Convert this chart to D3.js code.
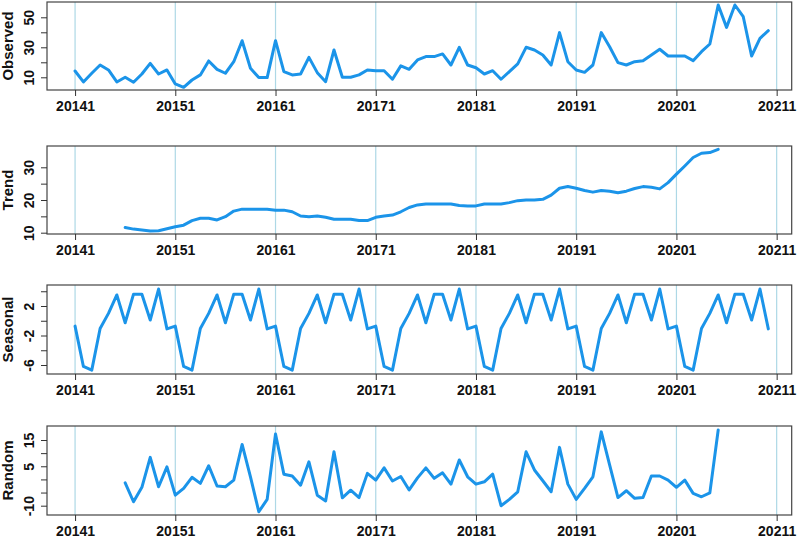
<!DOCTYPE html>
<html><head><meta charset="utf-8">
<script src="https://cdn.jsdelivr.net/npm/d3@7"></script>
<style>
body{margin:0;background:#fff;}
svg text{font-family:"Liberation Sans",Arial,sans-serif;font-weight:bold;fill:#111;}
</style></head>
<body><svg id="c" width="797" height="538"></svg>
<script>
const startYear = 2014;
const frequency = 12;
const observed = [14.2, 6.9, 12.7, 18.2, 14.9, 6.9, 10, 6.7, 12.2, 19.3, 12.2, 14.9,
 5.6, 3.3, 8.2, 11.6, 20.9, 15.3, 12.7, 20.4, 34.4, 16, 9.8, 9.8,
 34.4, 13.8, 11.6, 12.2, 23.3, 13.1, 7.1, 28.2, 10, 10, 11.6, 14.9,
 14.4, 14.4, 8.7, 17.6, 15.3, 21.6, 23.8, 23.8, 25.6, 18.2, 30, 18.2,
 16.4, 12.2, 14.4, 8.7, 13.8, 18.9, 30, 28.2, 24.9, 18.2, 39.8, 20.4,
 14.9, 13.3, 18.2, 39.8, 30.4, 19.8, 18.2, 20.4, 21.1, 24.9, 28.7, 24.2,
 24.2, 24.2, 21.1, 27.1, 32.2, 58.2, 43.3, 58.2, 50.4, 24.2, 36, 41.1];
const trendStart = 6;
const trend = [11.6, 11.1, 10.8, 10.5, 10.6, 11.2, 11.8, 12.3, 13.7, 14.4, 14.4, 13.9,
 14.9, 16.6, 17.2, 17.2, 17.2, 17.2, 16.9, 16.9, 16.4, 15.1, 14.9, 15.1,
 14.7, 14.1, 14.1, 14.1, 13.7, 13.7, 14.7, 15.1, 15.4, 16.4, 17.7, 18.5,
 18.8, 18.8, 18.8, 18.8, 18.3, 18.2, 18.2, 18.8, 18.8, 18.8, 19.2, 19.8,
 20, 20, 20.2, 21.5, 23.6, 24.1, 23.6, 22.9, 22.4, 22.9, 22.7, 22.2,
 22.7, 23.5, 24.1, 23.9, 23.4, 25.3, 27.9, 30.4, 33, 34.3, 34.5, 35.5];
const seasonal = [
 -0.73, -6.2, -6.7, -1.05, 1.0, 3.5, -0.27, 3.6, 3.6, 0.1, 4.3, -1.1,
 -0.73, -6.2, -6.7, -1.05, 1.0, 3.5, -0.27, 3.6, 3.6, 0.1, 4.3, -1.1,
 -0.73, -6.2, -6.7, -1.05, 1.0, 3.5, -0.27, 3.6, 3.6, 0.1, 4.3, -1.1,
 -0.73, -6.2, -6.7, -1.05, 1.0, 3.5, -0.27, 3.6, 3.6, 0.1, 4.3, -1.1,
 -0.73, -6.2, -6.7, -1.05, 1.0, 3.5, -0.27, 3.6, 3.6, 0.1, 4.3, -1.1,
 -0.73, -6.2, -6.7, -1.05, 1.0, 3.5, -0.27, 3.6, 3.6, 0.1, 4.3, -1.1,
 -0.73, -6.2, -6.7, -1.05, 1.0, 3.5, -0.27, 3.6, 3.6, 0.1, 4.3, -1.1];
const randomStart = 6;
const random = [-1.3, -8.5, -3, 8.4, -2.8, 4.8,
 -6, -3.4, 0.8, -1.5, 5.2, -2.5,
 -2.8, -0.25, 13.3, 1, -12.3, -7.6,
 17.3, 2, 1.3, -2.2, 6.7, -6,
 -8.2, 10.5, -7, -4.1, -6.9, 2.3,
 -0.25, 4.4, -0.6, 1.1, -4, 0.6,
 4.4, 0.4, 2.5, -1.8, 7.4, 1,
 -1.8, -0.9, 2, -10, -7.6, -4.7,
 10.5, 3.6, -0.5, -4.7, 12.2, -1.8,
 -7.6, -3.4, 1, 18.1, 5.5, -6.9,
 -4.3, -7.2, -6.9, 1.3, 1.3, -0.25,
 -3, -0.25, -5.3, -6.6, -5.1, 18.8];
const xTickYears = [2014, 2015, 2016, 2017, 2018, 2019, 2020, 2021];
const xTickLabels = ["20141", "20151", "20161", "20171", "20181", "20191", "20201", "20211"];
const panelTitles = ["Observed", "Trend", "Seasonal", "Random"];
const yTicks = [[10,20,30,40,50],[10,15,20,25,30],[4,2,0,-2,-4,-6],[15,10,5,0,-5,-10]];
const yTickLabels = [[10,30,50],[10,20,30],[2,-2,-6],[15,5,-10]];

const lineColor = "#1b94e9";
const gridColor = "#add8e6";
const svg = d3.select("#c");
const left = 47, right = 791.7;
const x = d3.scaleLinear().domain([2013.72, 2021.15]).range([left, right]);
const tOf = i => startYear + i / frequency;

const panels = [
  {top: 2, bottom: 90, anchor: [[10, 77.3], [50, 17.3]],
   data: observed.map((v, i) => [tOf(i), v])},
  {top: 146, bottom: 234, anchor: [[10, 232.7], [30, 167.3]],
   data: trend.map((v, i) => [tOf(i + trendStart), v])},
  {top: 285, bottom: 374, anchor: [[2, 306], [-6, 365]],
   data: seasonal.map((v, i) => [tOf(i), v])},
  {top: 426, bottom: 515, anchor: [[15, 440], [-10, 505.7]],
   data: random.map((v, i) => [tOf(i + randomStart), v])}
];

panels.forEach((p, k) => {
  const y = d3.scaleLinear().domain([p.anchor[0][0], p.anchor[1][0]]).range([p.anchor[0][1], p.anchor[1][1]]);
  const g = svg.append("g");
  g.selectAll("line.grid").data(xTickYears).join("line")
    .attr("x1", d => x(d)).attr("x2", d => x(d))
    .attr("y1", p.top).attr("y2", p.bottom)
    .attr("stroke", gridColor).attr("stroke-width", 1.2);
  const clipId = "clip" + k;
  svg.append("clipPath").attr("id", clipId).append("rect")
    .attr("x", left).attr("y", p.top).attr("width", right - left).attr("height", p.bottom - p.top);
  g.append("path").datum(p.data)
    .attr("clip-path", `url(#${clipId})`)
    .attr("d", d3.line().x(d => x(d[0])).y(d => y(d[1])))
    .attr("fill", "none").attr("stroke", lineColor).attr("stroke-width", 3)
    .attr("stroke-linejoin", "round").attr("stroke-linecap", "round");
  g.append("rect").attr("x", left).attr("y", p.top)
    .attr("width", right - left).attr("height", p.bottom - p.top)
    .attr("fill", "none").attr("stroke", "#444").attr("stroke-width", 1.2);
  const xAxis = d3.axisBottom(x).tickValues(xTickYears)
    .tickFormat((d, i) => xTickLabels[i]).tickSize(6).tickPadding(6);
  const xg = g.append("g").attr("transform", `translate(0,${p.bottom})`).call(xAxis);
  xg.select(".domain").remove();
  xg.selectAll(".tick line").attr("stroke", "#333");
  xg.selectAll(".tick text").attr("font-size", 14).attr("font-family", null).attr("fill", "#111")
    .attr("dy", null).attr("y", 20.5);
  const yAxis = d3.axisLeft(y).tickValues(yTicks[k]).tickSize(6)
    .tickFormat(d => yTickLabels[k].includes(d) ? String(d) : "");
  const yg = g.append("g").attr("transform", `translate(${left},0)`).call(yAxis);
  yg.select(".domain").remove();
  yg.selectAll(".tick line").attr("stroke", "#333");
  yg.selectAll(".tick text").attr("font-size", 14).attr("font-family", null).attr("fill", "#111")
    .attr("x", null).attr("dy", null).attr("text-anchor", "middle")
    .attr("transform", "translate(-13,0) rotate(-90)");
  g.append("text").attr("transform", `translate(13,${(p.top + p.bottom) / 2}) rotate(-90)`)
    .attr("text-anchor", "middle").attr("font-size", 15).text(panelTitles[k]);
});
</script></body></html>
